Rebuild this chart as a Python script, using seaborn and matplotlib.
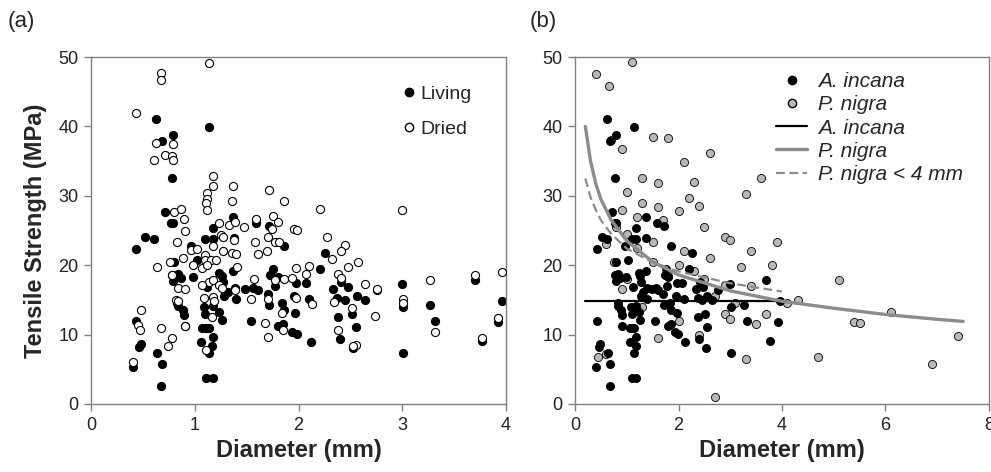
import numpy as np
import pandas as pd
import matplotlib
matplotlib.use("Agg")
import matplotlib.pyplot as plt
import seaborn as sns
from matplotlib.lines import Line2D

sns.set_theme(style="white")
plt.rcParams.update({
    'font.family': ['Liberation Sans', 'DejaVu Sans'],
    'font.size': 13,
    'xtick.labelsize': 13,
    'ytick.labelsize': 13,
    'axes.edgecolor': '#808080',
    'axes.linewidth': 1.0,
    'xtick.color': '#808080',
    'ytick.color': '#808080',
    'xtick.labelcolor': '#222222',
    'ytick.labelcolor': '#222222',
})

# ---- Panel (a): living vs dried roots ----
living_x = [0.625, 1.14, 0.79, 0.68, 0.78, 0.715, 0.77, 0.79, 0.525, 0.61, 0.43, 0.96, 1.10, 1.18,
            1.18, 1.02, 0.80, 0.78, 0.84, 0.87, 0.79, 0.98, 1.23, 1.26, 1.27, 1.12, 0.83, 0.84, 0.89,
            0.90, 1.09, 1.10, 1.18, 1.23, 1.26, 0.43, 0.91, 1.07, 1.11, 1.14, 1.18, 1.06, 1.14, 1.17,
            0.48, 0.46, 0.64, 0.68, 0.40, 0.67, 1.11, 1.18,
            1.37, 1.59, 1.72, 1.38, 1.86, 1.37, 1.28, 1.32, 1.39, 1.40, 1.48, 1.56, 1.61, 1.75, 1.73,
            1.80, 1.77, 1.71, 1.72, 1.84, 1.86, 1.80, 1.85, 1.54, 1.98, 2.07, 1.955, 2.10, 1.97, 1.94,
            1.99, 2.12, 2.21, 2.26, 2.33, 2.37, 2.45, 2.48, 2.41, 2.38, 2.40,
            2.56, 2.64, 2.52, 2.55, 2.53, 2.76, 3.00, 3.01, 3.01, 3.27, 3.32, 3.70, 3.765, 3.92, 3.96]
living_y = [41.0, 39.9, 38.8, 37.9, 32.6, 27.7, 26.1, 26.1, 24.1, 23.8, 22.4, 22.8, 23.8, 23.8,
            25.4, 20.7, 20.5, 18.6, 18.8, 18.1, 17.7, 18.3, 18.9, 18.5, 17.6, 16.9, 14.5, 14.1, 13.6,
            12.8, 14.0, 13.0, 14.1, 13.2, 12.1, 12.0, 11.2, 11.0, 11.0, 11.0, 9.6, 9.0, 7.4, 8.3,
            8.7, 8.2, 7.3, 5.8, 5.4, 2.6, 3.7, 3.8,
            27.0, 26.1, 25.7, 23.9, 22.7, 19.2, 15.5, 16.1, 16.7, 15.1, 16.5, 16.7, 16.4, 19.4, 18.6,
            18.3, 17.0, 15.9, 14.3, 14.5, 13.5, 11.2, 11.5, 11.9, 17.4, 17.4, 15.5, 15.1, 13.1, 10.4,
            10.1, 8.9, 19.5, 21.7, 16.5, 15.3, 15.0, 16.9, 17.6, 12.5, 9.4,
            15.5, 15.0, 12.9, 11.1, 8.0, 16.4, 17.3, 14.0, 7.4, 14.2, 11.9, 17.9, 9.1, 11.8, 14.8]

dried_x = [1.14, 0.676, 0.676, 0.43, 0.63, 0.79, 0.715, 0.78, 0.79, 0.61, 1.18, 1.18, 1.12, 1.12,
           1.11, 1.12, 0.80, 0.87, 0.90, 0.91, 0.83, 0.96, 1.02, 1.23, 1.25, 1.27, 1.18, 1.10, 1.10,
           1.16, 1.20, 0.76, 0.89, 0.64, 0.98, 1.07, 1.12, 0.78, 1.14, 1.18, 1.23, 1.26, 1.07, 0.84,
           0.91, 0.82, 0.84, 1.09, 1.18, 1.19, 1.17, 0.48, 0.45, 0.47, 0.67, 0.91, 1.11, 0.785, 0.74,
           0.40,
           1.37, 1.72, 1.36, 1.86, 2.21, 1.59, 1.75, 1.33, 1.39, 1.47, 1.80, 1.74, 1.27, 1.38, 1.58,
           1.71, 1.77, 1.81, 1.955, 1.99, 2.27, 2.45, 2.41, 2.32, 1.36, 1.40, 1.61, 1.70, 1.41, 1.39,
           1.57, 1.54, 1.77, 1.71, 1.86, 1.84, 1.85, 1.68, 1.71, 1.94, 1.98, 2.07, 2.10, 1.98, 2.13,
           2.34, 2.38, 2.41, 2.48, 2.38,
           3.00, 2.57, 2.64, 2.76, 2.52, 2.74, 2.55, 2.53, 3.01, 3.01, 3.27, 3.32, 3.70, 3.765, 3.92,
           3.96]
dried_y = [49.2, 47.7, 46.7, 41.9, 37.6, 37.5, 35.9, 35.8, 35.2, 35.2, 32.9, 31.4, 30.4, 29.6,
           29.0, 28.0, 27.6, 28.1, 26.7, 24.9, 23.3, 22.2, 22.3, 26.1, 24.4, 22.1, 22.7, 21.5, 20.8,
           20.8, 20.7, 20.5, 21.0, 19.8, 20.1, 19.6, 20.1, 18.6, 17.6, 17.8, 17.2, 16.7, 17.2, 16.7,
           16.6, 15.0, 14.8, 15.3, 15.4, 14.9, 12.5, 13.5, 11.4, 10.7, 10.9, 11.3, 7.8, 9.5, 8.3,
           6.1,
           31.4, 30.9, 29.2, 29.3, 28.1, 26.7, 27.1, 25.8, 26.2, 25.5, 26.2, 25.2, 24.0, 23.6, 23.3,
           24.0, 23.3, 23.4, 25.2, 25.1, 24.1, 22.9, 22.1, 20.9, 21.8, 21.6, 21.6, 22.0, 19.8, 16.4,
           18.0, 15.2, 17.8, 15.2, 18.0, 13.1, 10.6, 11.6, 9.6, 18.2, 19.6, 18.8, 19.9, 15.3, 14.4,
           14.7, 18.8, 18.1, 19.8, 10.7,
           27.9, 20.5, 17.3, 16.5, 13.8, 12.7, 8.5, 8.3, 15.1, 14.5, 17.9, 10.4, 18.6, 9.5, 12.4,
           19.0]

# ---- Panel (b): A. incana (same living roots) vs P. nigra ----
incana_x = living_x
incana_y = living_y

nigra_x = [0.40, 0.65, 1.10, 0.70, 0.90, 1.50, 1.80, 2.10, 2.60, 1.30, 1.60, 2.30, 3.30, 3.60,
           1.00, 1.30, 0.90, 1.60, 2.00, 2.20, 2.40, 1.20, 1.70, 2.50, 2.90, 3.00, 3.90, 0.80,
           1.00, 1.50, 2.10, 3.40, 3.80, 0.60, 1.20, 2.60, 2.00, 2.30, 3.20, 1.80, 2.50, 2.90,
           3.40, 4.10, 4.30, 5.10, 5.40, 5.50, 6.10, 6.90, 7.40, 4.70, 2.70, 3.30, 0.45, 0.60,
           1.60, 2.40, 3.10, 3.50, 2.00, 1.30, 0.90, 2.70, 3.70, 2.90, 1.50, 1.00, 0.75, 3.00]
nigra_y = [47.5, 45.8, 49.3, 38.0, 36.8, 38.5, 38.3, 34.8, 36.2, 32.5, 31.8, 32.0, 30.2, 32.5,
           30.5, 29.0, 28.0, 28.4, 27.8, 29.7, 28.6, 27.0, 26.5, 25.5, 24.0, 23.6, 23.3, 25.5,
           24.5, 23.3, 22.0, 22.0, 20.0, 23.0, 22.5, 21.0, 20.0, 19.2, 19.8, 18.5, 18.0, 17.2,
           17.0, 14.5, 15.0, 17.8, 11.8, 11.6, 13.2, 5.8, 9.8, 6.8, 1.0, 6.5, 6.8, 7.2,
           9.5, 10.0, 14.5, 11.5, 12.0, 14.0, 16.5, 15.5, 12.9, 13.0, 20.5, 18.0, 20.5, 12.2]

# fitted curves
incana_fit_x = [0.2, 4.0]
incana_fit_y = [14.8, 14.8]
nigra_fit_x = [0.2, 0.3, 0.4, 0.5, 0.7, 1.0, 1.5, 2.0, 3.0, 4.0, 5.0, 6.0, 7.0, 7.5]
nigra_fit_y = [40.0, 35.0, 31.8, 29.5, 26.5, 23.5, 20.5, 18.6, 16.3, 14.8, 13.8, 12.9, 12.2, 11.9]
nigra4_fit_x = [0.2, 0.3, 0.4, 0.5, 0.7, 1.0, 1.5, 2.0, 3.0, 4.0]
nigra4_fit_y = [32.5, 29.8, 28.0, 26.5, 24.5, 22.4, 20.4, 19.1, 17.4, 16.2]

W, H = 991, 472
fig = plt.figure(figsize=(W / 100, H / 100), dpi=100)
ax1 = fig.add_axes([91 / W, (H - 404) / H, (506 - 91) / W, (404 - 57) / H])
ax2 = fig.add_axes([575 / W, (H - 404) / H, (989 - 575) / W, (404 - 57) / H])

# ---------- (a) ----------
df_live = pd.DataFrame({'d': living_x, 'ts': living_y})
df_dry = pd.DataFrame({'d': dried_x, 'ts': dried_y})
sns.scatterplot(data=df_dry, x='d', y='ts', ax=ax1, s=34, color='white',
                edgecolor='black', linewidth=0.8, zorder=3)
sns.scatterplot(data=df_live, x='d', y='ts', ax=ax1, s=34, color='black',
                edgecolor='black', linewidth=0.8, zorder=2)
ax1.set_xlim(0, 4)
ax1.set_ylim(0, 50)
ax1.set_xticks([0, 1, 2, 3, 4])
ax1.set_yticks(range(0, 51, 10))
ax1.set_xlabel("Diameter (mm)", fontsize=17, fontweight='bold', labelpad=4)
ax1.set_ylabel("Tensile Strength (MPa)", fontsize=17, fontweight='bold', labelpad=8)
h_a = [Line2D([], [], ls='none', marker='o', ms=6, mfc='black', mec='black', label='Living'),
       Line2D([], [], ls='none', marker='o', ms=6, mfc='white', mec='black', label='Dried')]
ax1.legend(handles=h_a, loc='upper right', bbox_to_anchor=(0.96, 0.97), frameon=False,
           fontsize=14, handletextpad=0.1, labelspacing=0.9, handlelength=1.0)

# ---------- (b) ----------
df_inc = pd.DataFrame({'d': incana_x, 'ts': incana_y})
df_nig = pd.DataFrame({'d': nigra_x, 'ts': nigra_y})
sns.scatterplot(data=df_nig, x='d', y='ts', ax=ax2, s=34, color='#b8b8b8',
                edgecolor='black', linewidth=0.6, zorder=2)
sns.scatterplot(data=df_inc, x='d', y='ts', ax=ax2, s=34, color='black',
                edgecolor='black', linewidth=0.6, zorder=3)
fit_a = pd.DataFrame({'d': incana_fit_x, 'ts': incana_fit_y})
fit_n = pd.DataFrame({'d': nigra_fit_x, 'ts': nigra_fit_y})
fit_n4 = pd.DataFrame({'d': nigra4_fit_x, 'ts': nigra4_fit_y})
sns.lineplot(data=fit_a, x='d', y='ts', ax=ax2, color='black', lw=1.6, zorder=4)
sns.lineplot(data=fit_n, x='d', y='ts', ax=ax2, color='#8c8c8c', lw=2.4, zorder=4)
sns.lineplot(data=fit_n4, x='d', y='ts', ax=ax2, color='#8c8c8c', lw=1.6, ls=(0, (4, 2)), zorder=4)
ax2.set_xlim(0, 8)
ax2.set_ylim(0, 50)
ax2.set_xticks([0, 2, 4, 6, 8])
ax2.set_yticks(range(0, 51, 10))
ax2.set_xlabel("Diameter (mm)", fontsize=17, fontweight='bold', labelpad=4)
ax2.set_ylabel("")
h_b = [Line2D([], [], ls='none', marker='o', ms=6, mfc='black', mec='black', label='A. incana'),
       Line2D([], [], ls='none', marker='o', ms=6, mfc='#b8b8b8', mec='black', label='P. nigra'),
       Line2D([], [], color='black', lw=1.6, label='A. incana'),
       Line2D([], [], color='#8c8c8c', lw=2.4, label='P. nigra'),
       Line2D([], [], color='#8c8c8c', lw=1.6, ls=(0, (4, 2)), label='P. nigra < 4 mm')]
leg = ax2.legend(handles=h_b, loc='upper left', bbox_to_anchor=(0.44, 1.01), frameon=False,
                 fontsize=15, handletextpad=0.5, labelspacing=0.2, handlelength=1.5)
for t in leg.get_texts():
    t.set_fontstyle('italic')

for ax in (ax1, ax2):
    for sp in ax.spines.values():
        sp.set_visible(True)
        sp.set_color('#808080')
    ax.tick_params(axis='both', which='major', direction='out', length=5, width=1,
                   left=True, bottom=True, pad=4)

fig.text(8 / W, 1 - 22 / H, "(a)", fontsize=16, va='center', ha='left')
fig.text(530 / W, 1 - 22 / H, "(b)", fontsize=16, va='center', ha='left')

fig.savefig("out.png", dpi=100)
